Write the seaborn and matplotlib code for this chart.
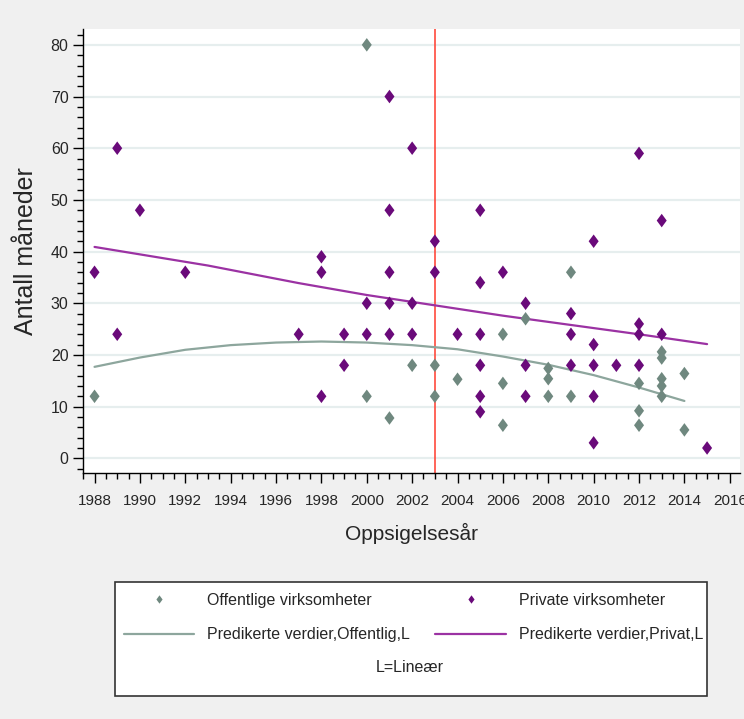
import matplotlib
matplotlib.use('Agg')
import numpy as np
import pandas as pd
import matplotlib.pyplot as plt
import seaborn as sns
from matplotlib.lines import Line2D
from matplotlib.patches import Rectangle
from matplotlib.ticker import MultipleLocator

# Offentlige virksomheter (public)
off_year = [1988, 2000, 2000, 2001, 2002, 2003, 2003, 2004, 2006, 2006, 2006,
            2007, 2008, 2008, 2008, 2009, 2009, 2012, 2012, 2012,
            2013, 2013, 2013, 2013, 2013, 2014, 2014]
off_months = [12, 80, 12, 7.8, 18, 18, 12, 15.3, 24, 14.5, 6.4,
              27, 17.4, 15.4, 12, 36, 12, 14.5, 9.2, 6.4,
              20.6, 19.4, 15.4, 14, 12, 16.4, 5.5]

# Private virksomheter
priv_year = [1988, 1989, 1989, 1990, 1992, 1997, 1998, 1998, 1998, 1999, 1999,
             2000, 2000, 2001, 2001, 2001, 2001, 2001, 2002, 2002, 2002,
             2003, 2003, 2004, 2005, 2005, 2005, 2005, 2005, 2005, 2006,
             2007, 2007, 2007, 2009, 2009, 2009, 2010, 2010, 2010, 2010, 2010,
             2011, 2012, 2012, 2012, 2012, 2013, 2013, 2015]
priv_months = [36, 60, 24, 48, 36, 24, 39, 36, 12, 24, 18,
               30, 24, 70, 48, 36, 30, 24, 60, 30, 24,
               42, 36, 24, 48, 34, 24, 18, 12, 9, 36,
               30, 18, 12, 28, 24, 18, 42, 22, 18, 12, 3,
               18, 59, 26, 24, 18, 46, 24, 2]

# predicted values
pred_off_year = [1988, 1990, 1992, 1994, 1996, 1998, 2000, 2002, 2004, 2006,
                 2008, 2010, 2012, 2014]
pred_off = [17.7, 19.5, 21.0, 21.9, 22.4, 22.6, 22.4, 21.9, 21.1, 19.7,
            18.1, 16.1, 13.7, 11.1]
pred_priv_year = [1988, 1993, 1997, 2000, 2003, 2006, 2009, 2012, 2015]
pred_priv = [40.9, 37.3, 33.9, 31.6, 29.6, 27.6, 25.8, 24.0, 22.1]

cutoff_year = 2003

off_col = '#6f887f'
priv_col = '#6a0a7a'
off_line_col = '#8da69d'
priv_line_col = '#9b32a3'

pts = pd.concat([
    pd.DataFrame({'year': off_year, 'months': off_months, 'grp': 'Offentlige virksomheter'}),
    pd.DataFrame({'year': priv_year, 'months': priv_months, 'grp': 'Private virksomheter'}),
])
lines = pd.concat([
    pd.DataFrame({'year': pred_off_year, 'months': pred_off, 'grp': 'off'}),
    pd.DataFrame({'year': pred_priv_year, 'months': pred_priv, 'grp': 'priv'}),
])

sns.set_style('white')
plt.rcParams['font.family'] = ['Liberation Sans', 'DejaVu Sans']

fig = plt.figure(figsize=(7.44, 7.19), dpi=100, facecolor='#f0f0f0')
ax = fig.add_axes([0.1109, 0.3417, 0.8837, 0.6175])
ax.set_facecolor('white')

ax.axvline(cutoff_year, color='#ff4a3d', lw=1.2, zorder=2)

sns.lineplot(data=lines, x='year', y='months', hue='grp',
             palette={'off': off_line_col, 'priv': priv_line_col},
             lw=1.6, legend=False, ax=ax, zorder=3)

diamond = [(-0.74, 0), (0, 1), (0.74, 0), (0, -1)]
sns.scatterplot(data=pts, x='year', y='months', hue='grp',
                palette={'Offentlige virksomheter': off_col, 'Private virksomheter': priv_col},
                marker=diamond, s=95, linewidth=0, legend=False, ax=ax, zorder=4)

ax.set_xlim(1987.47, 2016.45)
ax.set_ylim(-2.9, 83)
ax.xaxis.set_major_locator(MultipleLocator(2))
ax.xaxis.set_minor_locator(MultipleLocator(0.5))
ax.yaxis.set_major_locator(MultipleLocator(10))
ax.yaxis.set_minor_locator(MultipleLocator(2))
ax.yaxis.grid(True, which='major', color='#e6eeee', lw=1.6)
ax.set_axisbelow(True)

for s in ['top', 'right']:
    ax.spines[s].set_visible(False)
for s in ['left', 'bottom']:
    ax.spines[s].set_color('black')
    ax.spines[s].set_linewidth(1.0)

ax.tick_params(which='major', direction='out', length=7, width=1, color='black',
               labelsize=11, left=True, bottom=True, pad=3)
ax.tick_params(axis='y', which='major', labelsize=11.5)
ax.tick_params(which='minor', direction='out', length=4, width=1, color='black',
               left=True, bottom=True)
ax.tick_params(axis='x', which='major', pad=8)

ax.set_xlabel('Oppsigelsesår', fontsize=15, labelpad=11)
ax.set_ylabel('Antall måneder', fontsize=18, labelpad=9)

# legend box
fig.add_artist(Rectangle((0.1552, 0.032), 0.7951, 0.1585, transform=fig.transFigure,
                         facecolor='white', edgecolor='#333333', lw=1.2, zorder=1))
handles = [
    Line2D([], [], ls='none', marker=diamond, markersize=6, color=off_col, markeredgewidth=0),
    Line2D([], [], color=off_line_col, lw=1.6),
    Line2D([], [], ls='none', marker=diamond, markersize=6, color=priv_col, markeredgewidth=0),
    Line2D([], [], color=priv_line_col, lw=1.6),
]
labels = ['Offentlige virksomheter', 'Predikerte verdier,Offentlig,L',
          'Private virksomheter', 'Predikerte verdier,Privat,L']
leg = fig.legend(handles, labels, ncol=2, loc='upper left',
                 bbox_to_anchor=(124 / 744, 1 - 593 / 719), frameon=False,
                 fontsize=11.5, handlelength=4.4, handletextpad=0.8,
                 columnspacing=1.6, labelspacing=1.2, borderpad=0, borderaxespad=0)
leg.set_zorder(2)
fig.text(410 / 744, 1 - 668 / 719, 'L=Lineær', fontsize=11.5, ha='center', va='center', zorder=3)

fig.savefig('out.png', dpi=100, facecolor=fig.get_facecolor())
